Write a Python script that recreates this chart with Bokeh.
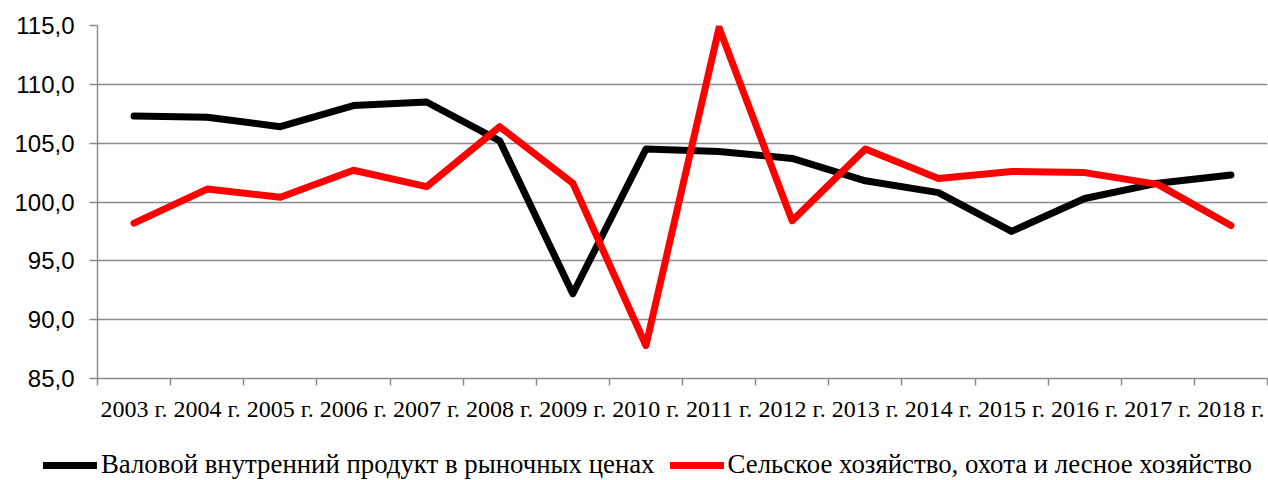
from bokeh.plotting import figure
from bokeh.layouts import column
from bokeh.models import FixedTicker, Legend, LegendItem, ColumnDataSource, Range1d
from bokeh.embed import file_html
from bokeh.resources import INLINE

years = ["2003 г.", "2004 г.", "2005 г.", "2006 г.", "2007 г.", "2008 г.", "2009 г.", "2010 г.",
         "2011 г.", "2012 г.", "2013 г.", "2014 г.", "2015 г.", "2016 г.", "2017 г.", "2018 г."]
gdp = [107.3, 107.2, 106.4, 108.2, 108.5, 105.2, 92.2, 104.5,
       104.3, 103.7, 101.8, 100.8, 97.5, 100.3, 101.6, 102.3]
agri = [98.2, 101.1, 100.4, 102.7, 101.3, 106.4, 101.6, 87.8,
        114.8, 98.4, 104.5, 102.0, 102.6, 102.5, 101.5, 98.0]
name_gdp = "Валовой внутренний продукт в рыночных ценах"
name_agri = "Сельское хозяйство, охота и лесное хозяйство"
y_ticks = [85, 90, 95, 100, 105, 110, 115]

n = len(years)
xpos = [i + 0.5 for i in range(n)]
src = ColumnDataSource(dict(x=xpos, gdp=gdp, agri=agri))

p = figure(width=1268, height=435, output_backend="svg", toolbar_location=None,
           x_range=Range1d(0, n), y_range=Range1d(85, 115),
           min_border_left=97, min_border_right=1, min_border_top=25, min_border_bottom=57)
p.frame_align = False
p.outline_line_color = None
p.background_fill_color = "white"
p.border_fill_color = "white"

grid_col = "#8c8c8c"
p.xgrid.visible = False
p.ygrid.ticker = FixedTicker(ticks=y_ticks)
p.ygrid.grid_line_color = grid_col
p.ygrid.grid_line_width = 1.5

# y axis
p.yaxis.ticker = FixedTicker(ticks=y_ticks)
p.yaxis.major_label_overrides = {t: f"{t:.1f}".replace(".", ",") for t in y_ticks}
p.yaxis.axis_line_color = grid_col
p.yaxis.axis_line_width = 1.5
p.yaxis.major_tick_line_color = grid_col
p.yaxis.major_tick_line_width = 1.5
p.yaxis.major_tick_out = 8
p.yaxis.major_tick_in = 0
p.yaxis.minor_tick_line_color = None
p.yaxis.major_label_text_font = "Liberation Sans"
p.yaxis.major_label_text_font_size = "24px"
p.yaxis.major_label_text_color = "black"
p.yaxis.major_label_standoff = 15

# x axis: labels at centers, tick marks at boundaries
p.xaxis.ticker = FixedTicker(ticks=xpos, minor_ticks=list(range(n + 1)))
p.xaxis.major_label_overrides = {x: y for x, y in zip(xpos, years)}
p.xaxis.axis_line_color = grid_col
p.xaxis.axis_line_width = 1.5
p.xaxis.major_tick_line_color = None
p.xaxis.major_tick_out = 0
p.xaxis.major_tick_in = 0
p.xaxis.minor_tick_line_color = grid_col
p.xaxis.minor_tick_line_width = 1.5
p.xaxis.minor_tick_out = 7
p.xaxis.minor_tick_in = 0
p.xaxis.major_label_text_font = "Liberation Serif"
p.xaxis.major_label_text_font_size = "24px"
p.xaxis.major_label_text_color = "black"
p.xaxis.major_label_standoff = 10

p.line("x", "gdp", source=src, line_color="black", line_width=7,
       line_join="round", line_cap="round")
p.line("x", "agri", source=src, line_color="#ff0000", line_width=7,
       line_join="round", line_cap="round")

# legend strip (its lines lie outside its ranges; only the legend shows)
lg = figure(width=1268, height=45, output_backend="svg", toolbar_location=None,
            x_range=Range1d(0, 1), y_range=Range1d(0, 1),
            min_border_left=0, min_border_right=0, min_border_top=0, min_border_bottom=0)
lg.frame_align = False
lg.axis.visible = False
lg.grid.visible = False
lg.outline_line_color = None
lg1 = lg.line(x=[5, 6], y=[5, 6], line_color="black", line_width=7, line_cap="round")
lg2 = lg.line(x=[5, 6], y=[5, 6], line_color="#ff0000", line_width=7, line_cap="round")
legend = Legend(items=[LegendItem(label=name_gdp, renderers=[lg1]),
                       LegendItem(label=name_agri, renderers=[lg2])],
                orientation="horizontal", location=(43, 0),
                glyph_width=54, glyph_height=24, label_height=24,
                label_standoff=4, spacing=15, padding=0, margin=0,
                border_line_color=None, background_fill_alpha=0,
                label_text_font="Liberation Serif", label_text_font_size="26.8px",
                label_text_color="black")
lg.add_layout(legend, "center")

layout = column(p, lg, spacing=0)
open("out.html", "w").write(file_html(layout, INLINE))
